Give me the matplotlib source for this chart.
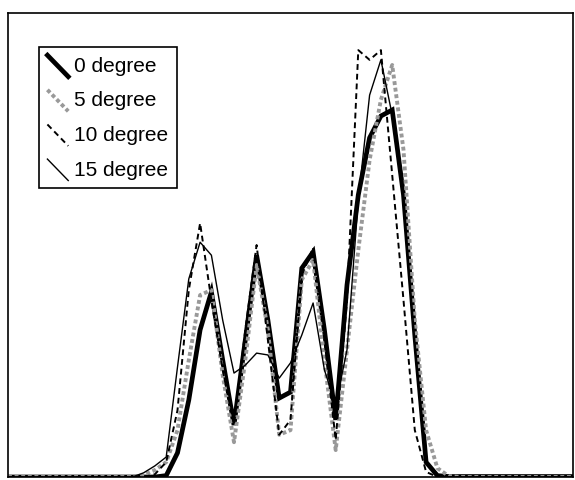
import matplotlib
matplotlib.use("Agg")
import matplotlib.pyplot as plt
from matplotlib.lines import Line2D
from matplotlib.legend_handler import HandlerBase

plt.rcParams['font.family'] = ['Liberation Sans', 'DejaVu Sans']

# sample index along the profile (0..50)
positions = list(range(51))

# intensity readings (relative units, 0 = baseline), one list per angle
zero = [0.0] * 14 + [0.3, 5.2, 16.6, 31.7, 39.9, 25.2, 11.2, 29.5, 47.8, 33.8,
                     17.0, 18.3, 45.0, 48.5, 31.7, 12.3, 41.4, 60.8, 73.1, 77.8,
                     79.1, 60.8, 30.6, 3.2, 0.3] + [0.1] * 12
five = [0.0] * 12 + [0.4, 1.5, 3.2, 10.1, 25.2, 39.2, 40.3, 22.0, 7.5, 25.2,
                     45.7, 31.7, 9.1, 10.1, 42.5, 46.8, 25.2, 5.8, 27.4, 48.9,
                     68.3, 81.3, 88.8, 70.5, 33.8, 10.1, 1.9, 0.2] + [0.0] * 11
ten = [0.0] * 13 + [0.6, 3.2, 14.4, 40.3, 54.7, 38.1, 23.1, 11.2, 31.7, 50.0,
                    29.5, 9.1, 12.3, 43.5, 49.4, 29.5, 8.0, 38.1, 92.0, 89.9,
                    92.0, 65.1, 38.1, 10.1, 1.1] + [0.0] * 13
fifteen = [0.0] * 12 + [0.9, 2.4, 4.3, 23.7, 42.7, 50.6, 47.8, 33.8, 22.4, 24.1,
                        26.7, 26.3, 21.3, 24.6, 30.6, 37.5, 23.1, 15.5, 27.4, 59.7,
                        82.3, 89.9, 78.0, 59.7, 29.5, 3.2, 0.2] + [0.0] * 12
labels = ["0 degree", "5 degree", "10 degree", "15 degree"]


class DiagonalHandler(HandlerBase):
    # excel-style legend key: a short line running down to the right
    def create_artists(self, legend, orig_handle, xdescent, ydescent,
                       width, height, fontsize, trans):
        x0, x1 = -xdescent, -xdescent + width
        y0, y1 = -ydescent + height, -ydescent - 0.15 * height
        line = Line2D([x0, x1], [y0, y1])
        line.update_from(orig_handle)
        line.set_transform(trans)
        return [line]


fig = plt.figure(figsize=(5.75, 4.8), dpi=100)
ax = fig.add_axes([8 / 575, 3 / 480, 565 / 575, 464 / 480])

l0, = ax.plot(positions, zero, color="black", lw=3.4, solid_joinstyle="miter")
l5, = ax.plot(positions, five, color="0.6", lw=2.8, linestyle=(0, (1, 0.7)))
l10, = ax.plot(positions, ten, color="black", lw=1.4, linestyle=(0, (3, 2)))
l15, = ax.plot(positions, fifteen, color="black", lw=1.0)

ax.set_xlim(0, 50)
ax.set_ylim(0, 100)
ax.set_xticks([])
ax.set_yticks([])
for s in ax.spines.values():
    s.set_linewidth(1.2)
    s.set_color("black")

leg = ax.legend([l0, l5, l10, l15], labels,
                handler_map={Line2D: DiagonalHandler()},
                loc="upper left", bbox_to_anchor=(0.055, 0.927),
                borderaxespad=0, fontsize=15, handlelength=1.0,
                handleheight=1.0, handletextpad=0.3, labelspacing=0.68,
                borderpad=0.4, fancybox=False, framealpha=1)
leg.get_frame().set_edgecolor("black")
leg.get_frame().set_linewidth(1.2)

fig.savefig("out.png", dpi=100)
